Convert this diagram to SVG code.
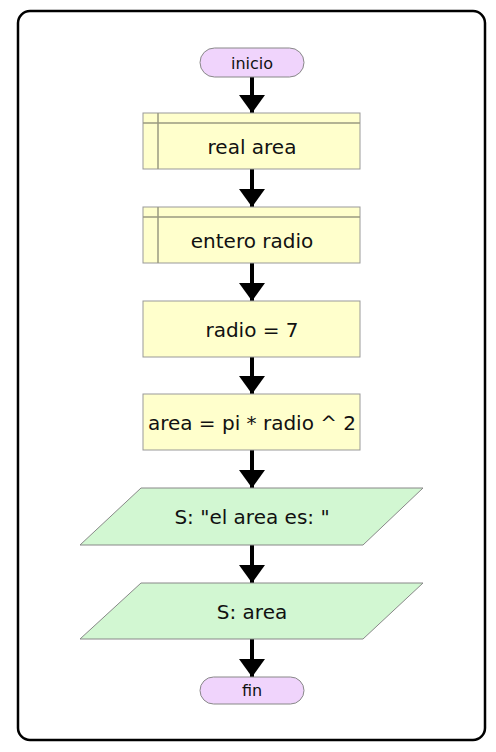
<svg xmlns="http://www.w3.org/2000/svg" width="496" height="752" viewBox="0 0 496 752">
<defs>
<style>
.box{fill:#ffffcc;stroke:#999999;stroke-width:1}
.io{fill:#d2f7d2;stroke:#888888;stroke-width:1}
.term{fill:#f0d4fc;stroke:#888888;stroke-width:1}
.inner{stroke:#9a9a80;stroke-width:1.5;fill:none}
.t{font-family:"DejaVu Sans",sans-serif;font-size:20px;fill:#111111;text-anchor:middle}
.tt{font-family:"DejaVu Sans",sans-serif;font-size:16px;fill:#111111;text-anchor:middle}
.shaft{stroke:#000000;stroke-width:4}
</style>
<marker id="ah" markerWidth="18" markerHeight="26" refX="18" refY="13" orient="auto" markerUnits="userSpaceOnUse">
<path d="M0,0 L18,13 L0,26 Z" fill="#000000"/>
</marker>
</defs>
<rect x="0" y="0" width="496" height="752" fill="#ffffff"/>
<rect x="18" y="11" width="467" height="729" rx="12" fill="#ffffff" stroke="#000000" stroke-width="2.5"/>
<g id="connectors">
<line class="shaft" x1="252" y1="77" x2="252" y2="113" marker-end="url(#ah)"/>
<line class="shaft" x1="252" y1="169" x2="252" y2="207" marker-end="url(#ah)"/>
<line class="shaft" x1="252" y1="263" x2="252" y2="301" marker-end="url(#ah)"/>
<line class="shaft" x1="252" y1="357" x2="252" y2="394" marker-end="url(#ah)"/>
<line class="shaft" x1="252" y1="450" x2="252" y2="488" marker-end="url(#ah)"/>
<line class="shaft" x1="252" y1="545" x2="252" y2="583" marker-end="url(#ah)"/>
<line class="shaft" x1="252" y1="639" x2="252" y2="677" marker-end="url(#ah)"/>
</g>
<g id="inicio">
<rect class="term" x="200" y="48" width="104" height="29" rx="14.5"/>
<text class="tt" x="252" y="68.5">inicio</text>
</g>
<g id="real_area">
<rect class="box" x="143" y="113" width="217" height="56"/>
<line class="inner" x1="143" y1="123" x2="360" y2="123"/>
<line class="inner" x1="158" y1="113" x2="158" y2="169"/>
<text class="t" x="252" y="153.5">real area</text>
</g>
<g id="entero_radio">
<rect class="box" x="143" y="207" width="217" height="56"/>
<line class="inner" x1="143" y1="217" x2="360" y2="217"/>
<line class="inner" x1="158" y1="207" x2="158" y2="263"/>
<text class="t" x="252" y="247.5">entero radio</text>
</g>
<g id="radio_asig">
<rect class="box" x="143" y="301" width="217" height="56"/>
<text class="t" x="252" y="336.5">radio = 7</text>
</g>
<g id="area_asig">
<rect class="box" x="143" y="394" width="217" height="56"/>
<text class="t" x="252" y="429.5">area = pi * radio ^ 2</text>
</g>
<g id="salida1">
<polygon class="io" points="141,488 423,488 363,545 80,545"/>
<text class="t" x="252" y="524">S: "el area es: "</text>
</g>
<g id="salida2">
<polygon class="io" points="141,583 423,583 363,639 80,639"/>
<text class="t" x="252" y="618.5">S: area</text>
</g>
<g id="fin">
<rect class="term" x="200" y="677" width="104" height="27" rx="13.5"/>
<text class="tt" x="252" y="696">fin</text>
</g>
</svg>
